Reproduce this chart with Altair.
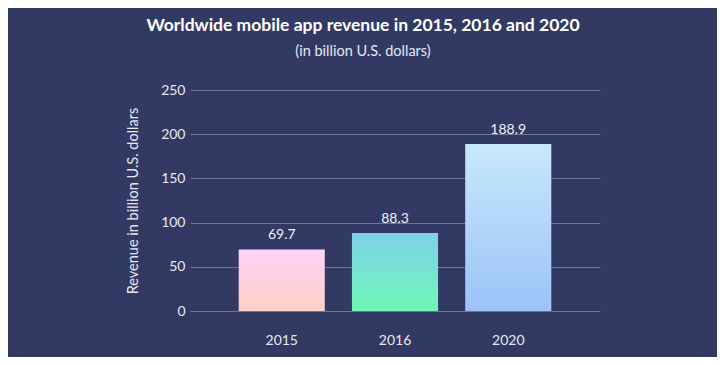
import altair as alt
import pandas as pd

years = ["2015", "2016", "2020"]
revenue = [69.7, 88.3, 188.9]
grad_top = ["#FFD2F8", "#80D0EA", "#C6E9FB"]
grad_bottom = ["#FFD0C6", "#6CF8B6", "#9CC2F8"]

df = pd.DataFrame({"year": years, "revenue": revenue})

FONT = "Lato"
LBL = "#E6E8F0"

x = alt.X("year:N", title=None,
          scale=alt.Scale(paddingInner=0.24, paddingOuter=0.43),
          axis=alt.Axis(labelAngle=0, labelPadding=22, ticks=False, domain=False,
                        labelFontSize=14, labelColor=LBL, labelFont=FONT))
y = alt.Y("revenue:Q", title="Revenue in billion U.S. dollars",
          scale=alt.Scale(domain=[0, 250], nice=False, zero=True),
          axis=alt.Axis(values=[0, 50, 100, 150, 200, 250], ticks=False, domain=False,
                        labelPadding=5, labelFontSize=14, labelColor=LBL,
                        labelFont=FONT, titleFont=FONT, titleFontSize=14.5,
                        titleFontWeight="normal", titleColor=LBL,
                        titlePadding=20, gridColor="#6E7598", gridWidth=1))

base = alt.Chart(df)
layers = []
for i, yr in enumerate(years):
    grad = alt.Gradient(
        gradient="linear",
        stops=[alt.GradientStop(color=grad_bottom[i], offset=0),
               alt.GradientStop(color=grad_top[i], offset=1)],
        x1=0, x2=0, y1=1, y2=0)
    layers.append(
        base.transform_filter(alt.datum.year == yr)
        .mark_bar(color=grad)
        .encode(x=x, y=y)
    )

text = base.mark_text(baseline="bottom", dy=-7, fontSize=14, color="#F0F0F5",
                      font=FONT).encode(
    x=x, y=y, text=alt.Text("revenue:Q", format=".1f"))

chart = alt.layer(*layers, text).properties(
    width=410, height=221,
    background="#323A64",
    padding={"left": 182, "top": 82, "right": 117, "bottom": 46},
    autosize=alt.AutoSizeParams(type="none"),
    title=alt.TitleParams(
        "Worldwide mobile app revenue in 2015, 2016 and 2020",
        subtitle="(in billion U.S. dollars)",
        font=FONT, fontSize=17.5, fontWeight="bold", color="#FFFFFF",
        subtitleFont=FONT, subtitleFontSize=14.5, subtitleColor=LBL,
        subtitlePadding=10, anchor="middle", dx=-32, offset=25),
).configure_view(stroke=None)

chart.save("out.html", embed_options={"renderer": "svg", "actions": False})
